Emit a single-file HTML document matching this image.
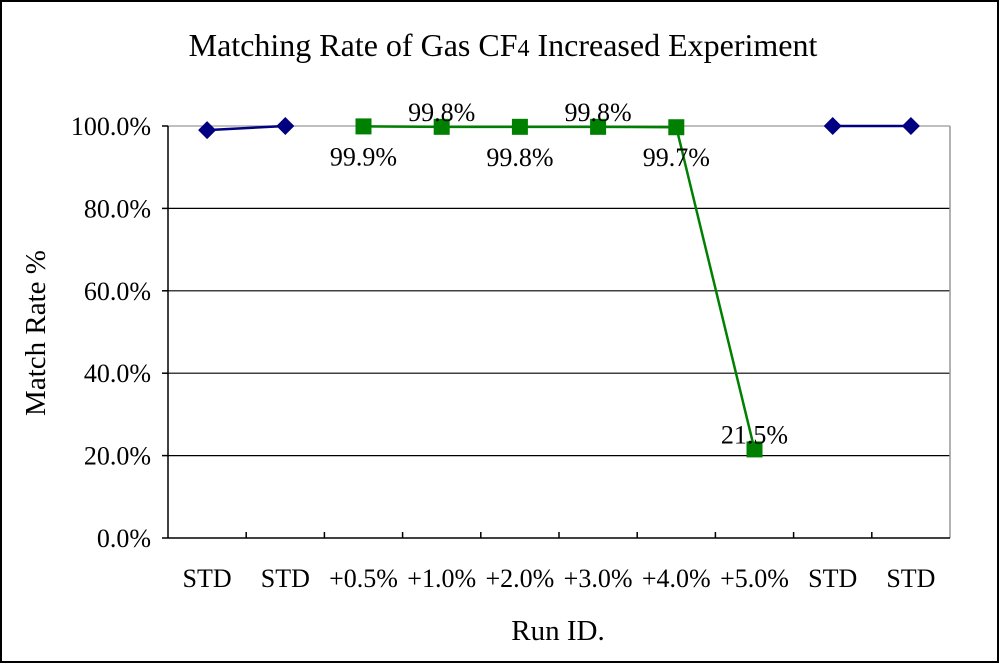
<!DOCTYPE html>
<html><head><meta charset="utf-8"><style>
body{margin:0;background:#fff}
svg{display:block;font-family:"Liberation Serif",serif}
</style></head><body>
<svg width="1000" height="664">
<rect x="1" y="1" width="997" height="661" fill="#fff" stroke="#000" stroke-width="2"/>
<text x="503" y="56" text-anchor="middle" font-size="32">Matching Rate of Gas CF<tspan font-size="24">4</tspan> Increased Experiment</text>
<text transform="translate(45,333) rotate(-90)" text-anchor="middle" font-size="29">Match Rate %</text>
<text x="558" y="640" text-anchor="middle" font-size="29">Run ID.</text>
<g id="grid"></g><g id="axes"></g><g id="series"></g>
</svg>
<script>
const categories=["STD","STD","+0.5%","+1.0%","+2.0%","+3.0%","+4.0%","+5.0%","STD","STD"];
const stdIdx1=[0,1];const stdVals1=[99.0,100.0];
const stdIdx2=[8,9];const stdVals2=[100.0,100.0];
const gasIdx=[2,3,4,5,6,7];const gasVals=[99.9,99.8,99.8,99.8,99.7,21.5];
const gasLabels=["99.9%","99.8%","99.8%","99.8%","99.7%","21.5%"];
const gasLabelPos=["below","above","below","above","below","above"];
const yTicks=[0,20,40,60,80,100];
const L=168,R=950,T=126,B=538;
const NS="http://www.w3.org/2000/svg";
const cw=(R-L)/categories.length;
const xs=i=>L+cw*(i+0.5);
const ys=v=>B-(v/100)*(B-T);
function mk(tag,attrs,parent){const e=document.createElementNS(NS,tag);for(const k in attrs)e.setAttribute(k,attrs[k]);document.getElementById(parent).appendChild(e);return e;}
yTicks.forEach(v=>{
  const y=ys(v);
  if(v>0){const g=mk('line',{x1:L,x2:R,y1:y,y2:y,stroke:v===100?'#999':'#000','stroke-width':1.2},'grid');
  
  }
  const tk=mk('line',{x1:L-6,x2:L,y1:y,y2:y,stroke:'#000','stroke-width':1.5},'axes');
  
  
  const t=mk('text',{x:L-17,y:y+9,'text-anchor':'end','font-size':26},'axes');t.textContent=v.toFixed(1)+'%';
  
  
});
const rb=mk('line',{x1:R,x2:R,y1:T,y2:B,stroke:'#999','stroke-width':1.5},'axes');


const ya=mk('line',{x1:L,x2:L,y1:T,y2:B,stroke:'#000','stroke-width':1.5},'axes');


const xa=mk('line',{x1:L,x2:R,y1:B,y2:B,stroke:'#000','stroke-width':1.5},'axes');


categories.forEach((c,i)=>{
  if(i>0){const tk=mk('line',{x1:L+cw*i,x2:L+cw*i,y1:B,y2:B-6,stroke:'#000','stroke-width':1.5},'axes');
  
  }
  const t=mk('text',{x:xs(i),y:B+49,'text-anchor':'middle','font-size':26},'axes');t.textContent=c;
  
  
});
function line(idx,vals,color,name){
  const p=mk('polyline',{points:idx.map((i,k)=>xs(i)+','+ys(vals[k])).join(' '),fill:'none',stroke:color,'stroke-width':2.5},'series');
  
  
}
function diamonds(idx,vals,name){
  idx.forEach((i,k)=>{const x=xs(i),y=ys(vals[k]);
    const d=mk('polygon',{points:`${x},${y-9} ${x+9},${y} ${x},${y+9} ${x-9},${y}`,fill:'#000080'},'series');
    
    });
}
line(stdIdx1,stdVals1,'#000080','std-line-start');
line(stdIdx2,stdVals2,'#000080','std-line-end');
diamonds(stdIdx1,stdVals1,'std-point');
diamonds(stdIdx2,stdVals2,'std-point');
line(gasIdx,gasVals,'#008000','gas-line');
gasIdx.forEach((i,k)=>{const x=xs(i),y=ys(gasVals[k]);
  const s=mk('rect',{x:x-8,y:y-8,width:16,height:16,fill:'#008000'},'series');
  
  
  const t=mk('text',{x:x,y:gasLabelPos[k]==='above'?y-6:y+39,'text-anchor':'middle','font-size':26},'series');
  t.textContent=gasLabels[k];
  
  
});
</script>
</body></html>
